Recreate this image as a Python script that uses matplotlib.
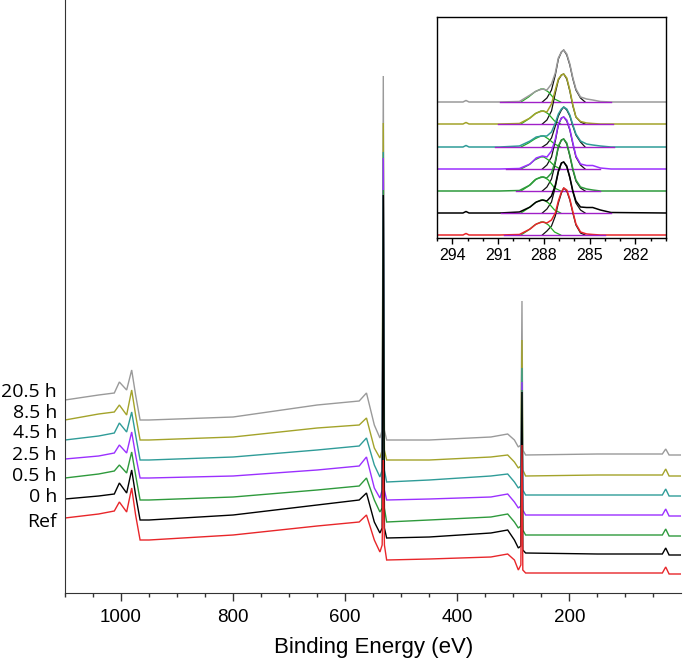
import matplotlib
matplotlib.use("Agg")
import matplotlib.pyplot as plt
from matplotlib.ticker import MultipleLocator, FixedLocator

# ---- survey spectra (intensity a.u., stacked) ----
labels = ["20.5 h", "8.5 h", "4.5 h", "2.5 h", "0.5 h", "0 h", "Ref"]
colors = ["#9a9a9a", "#a3a32a", "#2f9c98", "#9b30ff", "#2e9a3c", "#000000", "#e8262a"]

energy = [1100, 1040, 1012, 1003, 990, 981, 974, 966, 950, 800, 650, 575, 562, 548,
          538, 534, 532, 530, 526, 450, 340, 310, 298, 291, 286.5, 284.5, 283, 278,
          150, 34, 28, 22, 0]

s_205 = [193, 198, 200, 211, 203, 223, 198, 173, 173, 176, 188, 192, 200, 168, 155, 163, 517,
         163, 153, 153, 156, 159, 153, 146, 148, 292, 143, 138, 139, 139, 144, 138, 138]
s_85 = [173, 179, 181, 188, 178, 203, 178, 153, 153, 156, 165, 168, 175, 145, 135, 143, 470,
        143, 133, 133, 136, 138, 131, 125, 127, 253, 123, 117, 118, 118, 124, 117, 117]
s_45 = [153, 157, 160, 170, 161, 181, 158, 133, 133, 136, 143, 147, 155, 128, 116, 123, 441,
        123, 111, 113, 117, 119, 111, 105, 107, 225, 103, 98, 98, 98, 104, 97, 97]
s_25 = [134, 137, 140, 148, 140, 161, 138, 115, 115, 117, 123, 127, 136, 105, 95, 103, 435,
        103, 93, 94, 96, 99, 91, 85, 87, 211, 83, 78, 78, 78, 84, 77, 77]
s_05 = [115, 119, 122, 128, 120, 141, 118, 93, 93, 96, 103, 107, 115, 93, 81, 85, 403,
        85, 71, 73, 76, 79, 71, 65, 67, 203, 63, 58, 58, 58, 64, 57, 57]
s_0 = [94, 97, 99, 110, 100, 123, 98, 73, 73, 78, 88, 93, 100, 71, 60, 65, 398,
       65, 55, 56, 60, 63, 53, 45, 47, 201, 43, 40, 39, 39, 45, 38, 38]
s_ref = [75, 79, 82, 91, 81, 105, 78, 53, 53, 58, 67, 71, 78, 53, 41, 48, 133,
         48, 33, 34, 36, 39, 33, 23, 28, 148, 23, 20, 20, 20, 26, 19, 19]
survey = [s_205, s_85, s_45, s_25, s_05, s_0, s_ref]
label_y = [201, 180, 160, 138, 117, 96, 71]

# ---- C 1s inset (stacked, baseline offsets) ----
e_c1s = [295.0, 293.3, 293.1, 292.9, 290.9, 289.6, 288.9, 288.5, 288.1, 287.8, 287.5, 287.25,
         287.05, 286.85, 286.7, 286.5, 286.3, 286.1, 285.9, 285.6, 285.2, 284.8, 284.3, 283.6, 280.0]
c_205 = [0, 0, 1.5, 0, 0, 0.5, 7, 11, 13, 12, 18, 29, 44, 50, 52, 48, 38, 24, 13, 5, 3, 2, 0.5, 0, 0]
c_85 = [0, 0, 1.5, 0, 0, 0.5, 6, 11, 13, 12, 20, 34, 45, 49, 50, 46, 34, 19, 7, 2.5, 1, 0.5, 0, 0, 0]
c_45 = [0, 0, 1.5, 0, 0, 1, 6, 10, 11, 11, 15, 24, 33, 38, 40, 38, 32, 22, 13, 6, 3, 2, 1, 0, 0]
c_25 = [0, 0, 0, 0, 0, 0.5, 5, 11, 13, 12, 18, 30, 45, 51, 52, 49, 40, 26, 13, 5, 3.5, 3.5, 1, 0, 0]
c_05 = [0, 0, 0, 0, 0, 0.5, 6, 12, 14, 13, 18, 30, 45, 51, 52, 48, 36, 22, 11, 4, 2, 1, 0, 0, 0]
c_0 = [0, 0, 1.5, 0, 0, 1, 6, 11, 13, 12, 17, 28, 42, 50, 51, 47, 36, 22, 12, 6, 5.5, 5.5, 3, 0.5, 0]
c_ref = [0, 0, 1.5, 0, 0, 0.5, 6, 11, 13, 12, 15, 22, 34, 43, 47, 45, 36, 23, 11, 3, 1, 0.5, 0, 0, 0]
c1s = [c_205, c_85, c_45, c_25, c_05, c_0, c_ref]
c1s_base = [136, 114, 91, 69, 47, 25, 3]

# fitted components
e_coo = [289.5, 289.0, 288.6, 288.2, 288.0, 287.7, 287.3, 286.9]
coo = [[0, 5, 10, 13, 13, 10, 3, 0],
       [0, 5, 10, 13, 13, 10, 3, 0],
       [0, 4, 8, 11, 11, 8, 3, 0],
       [0, 4, 9, 12, 12, 9, 3, 0],
       [0, 5, 11, 14, 14, 11, 3, 0],
       [0, 5, 10, 13, 13, 10, 3, 0],
       [0, 5, 10, 13, 13, 10, 3, 0]]
e_cc = [288.1, 287.8, 287.5, 287.25, 287.05, 286.85, 286.7, 286.5, 286.3, 286.1, 285.9, 285.6, 285.3]
cc = [[0, 4, 12, 27, 43, 50, 52, 47, 37, 23, 12, 4, 0],
      [0, 4, 13, 31, 44, 49, 50, 45, 33, 18, 7, 2, 0],
      [0, 3, 9, 21, 31, 37, 40, 37, 31, 21, 12, 5, 0],
      [0, 4, 12, 28, 44, 51, 52, 48, 39, 25, 12, 4, 0],
      [0, 4, 12, 28, 44, 51, 52, 47, 35, 21, 10, 3, 0],
      [0, 4, 11, 26, 41, 50, 51, 46, 35, 21, 10, 3, 0],
      [0, 4, 9, 19, 32, 42, 47, 44, 35, 22, 10, 2, 0]]
bg_range = [[290.9, 283.6], [291.0, 283.5], [291.2, 283.4], [290.5, 284.3],
            [289.8, 284.3], [290.8, 283.6], [290.6, 284.0]]

fig = plt.figure(figsize=(6.85, 6.62), dpi=100)
ax = fig.add_axes([65 / 685, 69 / 662, 616.4 / 685, 593 / 662])

for ys, c in zip(survey, colors):
    ax.plot(energy, ys, color=c, lw=1.0, solid_joinstyle="miter")

ax.set_xlim(1100, 0)
ax.set_ylim(0, 593)
for side in ["top", "right"]:
    ax.spines[side].set_visible(False)
ax.spines["left"].set_color("#333333")
ax.spines["bottom"].set_color("#333333")
ax.set_yticks([])
ax.xaxis.set_major_locator(FixedLocator([1000, 800, 600, 400, 200]))
ax.xaxis.set_minor_locator(FixedLocator(list(range(1100, 0, -50))))
ax.tick_params(axis="x", which="major", direction="out", length=5.5, width=1,
               labelsize=13.5, pad=6, color="#333333")
ax.tick_params(axis="x", which="minor", direction="out", length=3, width=1, color="#333333")
for t in ax.get_xticklabels():
    t.set_fontfamily("Liberation Sans")
ax.set_xlabel("Binding Energy (eV)", fontsize=16, fontfamily="Liberation Sans", labelpad=8)

for lab, yy in zip(labels, label_y):
    ax.text(-0.013, yy / 593, lab, transform=ax.transAxes, ha="right", va="center",
            fontsize=14, fontfamily="Open Sans")

# inset: fit components underneath, measured envelope on top, background last
axi = fig.add_axes([437 / 685, (662 - 238) / 662, 229 / 685, 221 / 662])
for i, (ys, c) in enumerate(zip(c1s, colors)):
    b = c1s_base[i]
    axi.plot(e_cc, [b + v for v in cc[i]], color="#111111", lw=0.9)
    axi.plot(e_coo, [b + v for v in coo[i]], color="#22aa22", lw=0.9)
    axi.plot(e_c1s, [b + v for v in ys], color=c, lw=1.1)
    axi.plot(bg_range[i], [b, b], color="#a020c8", lw=1.0)

axi.set_xlim(295, 280)
axi.set_ylim(0, 221)
axi.set_yticks([])
axi.xaxis.set_major_locator(FixedLocator([294, 291, 288, 285, 282]))
axi.xaxis.set_minor_locator(MultipleLocator(1))
axi.tick_params(axis="x", which="major", direction="out", length=4, width=1, labelsize=11.5, pad=3)
axi.tick_params(axis="x", which="minor", direction="out", length=2.5, width=1)
for t in axi.get_xticklabels():
    t.set_fontfamily("Liberation Sans")
for s in axi.spines.values():
    s.set_linewidth(1.0)

fig.savefig("out.png", dpi=100)
